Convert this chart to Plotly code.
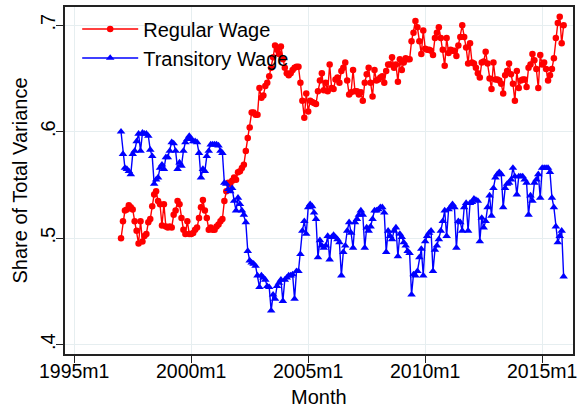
import plotly.graph_objects as go

# Monthly series, 1997m1 .. 2015m12 (Stata %tm codes: 1997m1 = 444)
start_month = 444
regular_wage = [
    0.500, 0.516, 0.526, 0.527, 0.531, 0.529, 0.527, 0.516, 0.507, 0.495, 0.516, 0.497,
    0.502, 0.504, 0.515, 0.518, 0.530, 0.541, 0.544, 0.535, 0.532, 0.512, 0.532, 0.511,
    0.510, 0.511, 0.510, 0.522, 0.526, 0.535, 0.532, 0.519, 0.508, 0.504, 0.516, 0.504,
    0.504, 0.505, 0.508, 0.510, 0.519, 0.529, 0.536, 0.526, 0.519, 0.508, 0.510, 0.508,
    0.508, 0.511, 0.513, 0.516, 0.518, 0.535, 0.544, 0.552, 0.551, 0.554, 0.557, 0.555,
    0.562, 0.563, 0.566, 0.569, 0.582, 0.594, 0.604, 0.618, 0.618, 0.616, 0.616, 0.641,
    0.632, 0.634, 0.643, 0.646, 0.652, 0.660, 0.670, 0.681, 0.677, 0.673, 0.680, 0.668,
    0.660, 0.655, 0.653, 0.655, 0.658, 0.660, 0.661, 0.661, 0.646, 0.629, 0.613, 0.636,
    0.619, 0.629, 0.628, 0.627, 0.626, 0.638, 0.648, 0.655, 0.639, 0.646, 0.638, 0.663,
    0.641, 0.640, 0.649, 0.651, 0.646, 0.657, 0.660, 0.665, 0.648, 0.635, 0.637, 0.658,
    0.638, 0.638, 0.635, 0.637, 0.629, 0.646, 0.654, 0.660, 0.646, 0.633, 0.658, 0.648,
    0.649, 0.651, 0.652, 0.646, 0.657, 0.663, 0.663, 0.670, 0.660, 0.663, 0.647, 0.668,
    0.658, 0.665, 0.669, 0.668, 0.668, 0.685, 0.693, 0.704, 0.698, 0.685, 0.673, 0.695,
    0.678, 0.677, 0.677, 0.676, 0.672, 0.688, 0.693, 0.698, 0.688, 0.677, 0.662, 0.688,
    0.674, 0.677, 0.676, 0.676, 0.671, 0.681, 0.689, 0.700, 0.689, 0.679, 0.664, 0.683,
    0.665, 0.664, 0.660, 0.655, 0.651, 0.665, 0.666, 0.675, 0.664, 0.650, 0.640, 0.665,
    0.649, 0.649, 0.648, 0.645, 0.636, 0.653, 0.657, 0.664, 0.654, 0.645, 0.629, 0.657,
    0.641, 0.648, 0.649, 0.649, 0.642, 0.660, 0.663, 0.673, 0.667, 0.659, 0.641, 0.672,
    0.663, 0.665, 0.659, 0.648, 0.653, 0.659, 0.669, 0.688, 0.702, 0.708, 0.683, 0.700,
]
transitory_wage = [
    0.600, 0.579, 0.566, 0.565, 0.563, 0.560, 0.579, 0.582, 0.591, 0.598, 0.582, 0.599,
    0.598, 0.598, 0.596, 0.583, 0.577, 0.551, 0.555, 0.557, 0.566, 0.569, 0.565, 0.576,
    0.576, 0.582, 0.590, 0.589, 0.582, 0.565, 0.571, 0.568, 0.582, 0.590, 0.593, 0.596,
    0.593, 0.591, 0.591, 0.590, 0.580, 0.557, 0.565, 0.563, 0.577, 0.582, 0.588, 0.588,
    0.588, 0.588, 0.587, 0.582, 0.580, 0.552, 0.551, 0.546, 0.544, 0.547, 0.535, 0.526,
    0.538, 0.532, 0.526, 0.522, 0.515, 0.488, 0.479, 0.477, 0.476, 0.474, 0.465, 0.454,
    0.465, 0.463, 0.461, 0.455, 0.454, 0.432, 0.447, 0.443, 0.455, 0.458, 0.461, 0.441,
    0.461, 0.463, 0.465, 0.465, 0.466, 0.443, 0.469, 0.469, 0.485, 0.507, 0.516, 0.504,
    0.529, 0.532, 0.530, 0.524, 0.518, 0.482, 0.498, 0.493, 0.491, 0.493, 0.502, 0.480,
    0.501, 0.503, 0.501, 0.499, 0.496, 0.465, 0.487, 0.493, 0.507, 0.515, 0.505, 0.491,
    0.515, 0.518, 0.522, 0.526, 0.522, 0.491, 0.510, 0.507, 0.511, 0.518, 0.526, 0.526,
    0.527, 0.529, 0.529, 0.524, 0.487, 0.507, 0.502, 0.499, 0.507, 0.510, 0.483, 0.504,
    0.501, 0.496, 0.493, 0.488, 0.486, 0.447, 0.466, 0.465, 0.469, 0.482, 0.490, 0.465,
    0.497, 0.502, 0.505, 0.507, 0.469, 0.489, 0.493, 0.499, 0.507, 0.516, 0.526, 0.502,
    0.527, 0.529, 0.532, 0.529, 0.491, 0.516, 0.515, 0.507, 0.529, 0.533, 0.507, 0.533,
    0.534, 0.537, 0.536, 0.535, 0.497, 0.519, 0.510, 0.516, 0.529, 0.540, 0.521, 0.547,
    0.557, 0.560, 0.562, 0.560, 0.529, 0.547, 0.551, 0.552, 0.555, 0.566, 0.558, 0.541,
    0.558, 0.558, 0.558, 0.555, 0.552, 0.522, 0.540, 0.535, 0.552, 0.555, 0.560, 0.538,
    0.566, 0.566, 0.566, 0.566, 0.562, 0.538, 0.529, 0.511, 0.496, 0.502, 0.507, 0.464,
]
months = list(range(start_month, start_month + len(regular_wage)))

x_tick_vals = [420, 480, 540, 600, 660]
x_tick_text = ["1995m1", "2000m1", "2005m1", "2010m1", "2015m1"]
y_tick_vals = [0.4, 0.5, 0.6, 0.7]
y_tick_text = [".4", ".5", ".6", ".7"]

FONT = "Liberation Sans, Arial, Helvetica, sans-serif"

fig = go.Figure()
fig.add_trace(go.Scatter(
    x=months, y=regular_wage, mode="lines+markers", name="Regular Wage",
    line=dict(color="#ff0000", width=1.4),
    marker=dict(symbol="circle", size=6.5, color="#ff0000"),
))
fig.add_trace(go.Scatter(
    x=months, y=transitory_wage, mode="lines+markers", name="Transitory Wage",
    line=dict(color="#0000ff", width=1.4),
    marker=dict(symbol="triangle-up", size=7.5, color="#0000ff"),
))

axis_common = dict(
    showline=True, mirror=True, linecolor="#222222", linewidth=1.5,
    ticks="outside", ticklen=7, tickcolor="#222222", tickwidth=1,
    showgrid=True, gridcolor="#e6eef0", gridwidth=1.2, zeroline=False,
)

fig.update_layout(
    width=582, height=409,
    margin=dict(l=65, r=5, t=5, b=55),
    paper_bgcolor="white", plot_bgcolor="white",
    font=dict(family=FONT, size=20, color="black"),
    xaxis=dict(
        range=[415.27, 675.8], tickvals=x_tick_vals, ticktext=x_tick_text,
        tickfont=dict(size=19.5, color="black", family=FONT),
        ticklabelstandoff=-8,
        **axis_common,
    ),
    yaxis=dict(
        range=[0.3913, 0.7171], tickvals=y_tick_vals, ticktext=y_tick_text,
        tickangle=-90,
        tickfont=dict(size=20, color="black", family=FONT),
        ticklabelstandoff=-7,
        title=dict(text="Share of Total Variance", font=dict(size=20), standoff=4),
        **axis_common,
    ),
    legend=dict(
        x=0.024, y=0.993, xanchor="left", yanchor="top",
        bgcolor="rgba(0,0,0,0)", borderwidth=0,
        font=dict(size=20, family=FONT, color="black"),
        itemwidth=56, tracegroupgap=0,
    ),
    annotations=[dict(
        text="Month", xref="paper", yref="paper", x=0.5, y=-0.123,
        xanchor="center", yanchor="middle", showarrow=False,
        font=dict(size=20, family=FONT, color="black"),
    )],
    showlegend=True,
)

fig.write_html(
    "out.html",
    config={"displayModeBar": False},
    post_script="document.body.style.margin='0px';document.body.style.padding='0px';",
)
